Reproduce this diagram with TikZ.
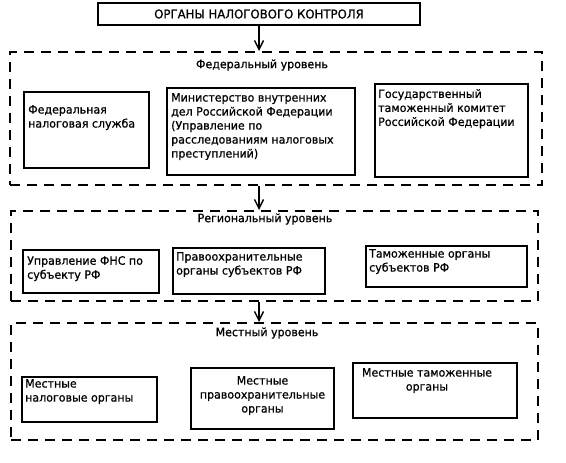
\documentclass[tikz,border=0pt]{standalone}
\usepackage{fontspec}
\setmainfont{DejaVu Sans}[FakeStretch=0.96,FakeBold=0.8]
\usetikzlibrary{arrows.meta,calc}
\begin{document}
\begin{tikzpicture}[x=1pt,y=-1pt,
 box/.style={draw, line width=2pt, inner sep=0pt},
 level/.style={draw, line width=2pt, dash pattern=on 10pt off 7pt, inner sep=0pt},
 txt/.style={inner sep=0pt, font=\fontsize{11.5}{14}\selectfont, align=left},
 arr/.style={-{Straight Barb[length=9pt,width=9pt,line width=1.4pt]}, line width=1.4pt}]
\useasboundingbox (0,0) rectangle (566,463);
% top
\node[box, minimum width=322pt, minimum height=22pt, font=\fontsize{12.2}{14}\selectfont] (top) at (259,14) {ОРГАНЫ НАЛОГОВОГО КОНТРОЛЯ};
% federal
\node[level, minimum width=532pt, minimum height=133pt] (fed) at (276,118.5) {};
\node[txt] (fedlbl) at (262,65) {Федеральный уровень};
\node[box, minimum width=125pt, minimum height=76pt] (f1) at (86.5,130) {};
\node[txt, anchor=north west] (f1t) at (28,105) {Федеральная\\налоговая служба};
\node[box, minimum width=188pt, minimum height=87pt] (f2) at (261,131.5) {};
\node[txt, anchor=north west] (f2t) at (171,93) {Министерство внутренних\\дел Российской Федерации\\(Управление по\\расследованиям налоговых\\преступлений)};
\node[box, minimum width=153pt, minimum height=93pt] (f3) at (451.5,130.5) {};
\node[txt, anchor=north west] (f3t) at (378,89) {Государственный\\таможенный комитет\\Российской Федерации};
% regional
\node[level, minimum width=527pt, minimum height=90pt] (reg) at (274.5,256) {};
\node[txt] (reglbl) at (265,219) {Региональный уровень};
\node[box, minimum width=136pt, minimum height=43pt] (r1) at (91,271.5) {};
\node[txt, anchor=north west] (r1t) at (27,256) {Управление ФНС по\\субъекту РФ};
\node[box, minimum width=152pt, minimum height=46pt] (r2) at (249,271) {};
\node[txt, anchor=north west] (r2t) at (176,252) {Правоохранительные\\органы субъектов РФ};
\node[box, minimum width=161pt, minimum height=41pt] (r3) at (446.5,266.5) {};
\node[txt, anchor=north west] (r3t) at (369,249) {Таможенные органы\\субъектов РФ};
% local
\node[level, minimum width=527pt, minimum height=117pt] (loc) at (274.5,381.5) {};
\node[txt] (loclbl) at (267,333) {Местный уровень};
\node[box, minimum width=135pt, minimum height=45pt] (l1) at (89.5,399.5) {};
\node[txt, anchor=north west] (l1t) at (25,379) {Местные\\налоговые органы};
\node[box, minimum width=143pt, minimum height=61pt] (l2) at (262.5,398.5) {};
\node[txt, anchor=north, align=center] (l2t) at (262.5,376) {Местные\\правоохранительные\\органы};
\node[box, minimum width=164pt, minimum height=55pt] (l3) at (435,390.5) {};
\node[txt, anchor=north, align=center] (l3t) at (427,368) {Местные таможенные\\органы};
% arrows
\draw[arr] (top.south) -- (top.south |- fed.north);
\draw[arr] (top.south |- fed.south) -- (top.south |- reg.north);
\draw[arr] (top.south |- reg.south) -- (top.south |- loc.north);
\end{tikzpicture}
\end{document}
